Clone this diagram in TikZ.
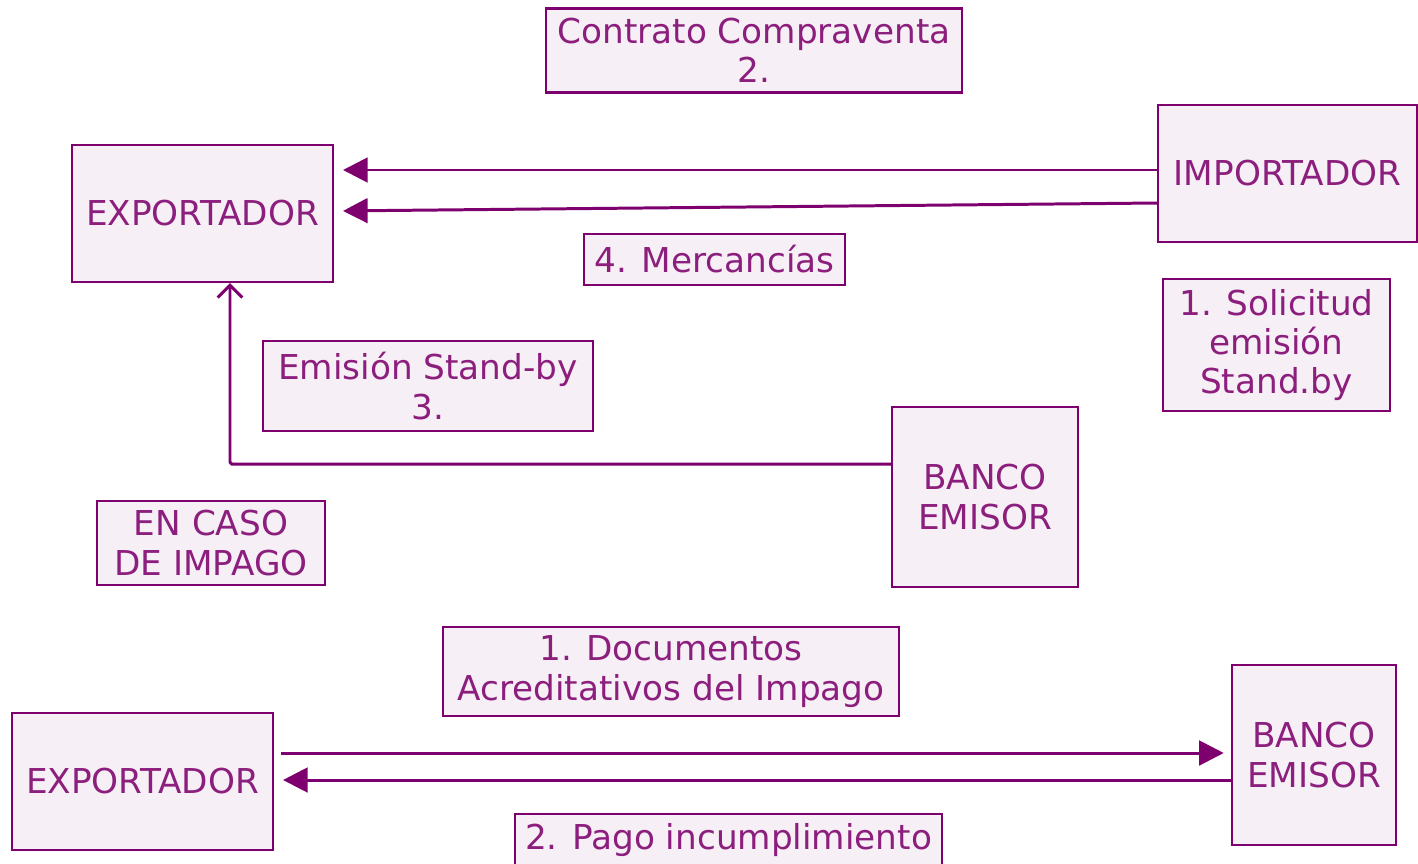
\documentclass[tikz,border=0pt]{standalone}
\usepackage{fontspec}
\setmainfont{DejaVu Sans}
\usetikzlibrary{arrows.meta}
\definecolor{pline}{RGB}{125,0,110}
\definecolor{ptext}{RGB}{140,30,125}
\definecolor{pfill}{RGB}{246,239,245}
\begin{document}
\begin{tikzpicture}[x=0.02cm,y=-0.02cm,
  box/.style={draw=pline,line width=1.4pt,fill=pfill,inner sep=0pt,text=ptext,align=center,
    font=\fontsize{19.5}{22.3}\selectfont},
  wh/.style 2 args={minimum width=#1*0.02cm,minimum height=#2*0.02cm},
  tri/.style={draw=pline,line width=1.7pt,-{Triangle[length=14pt,width=14pt]}},
  openarr/.style={draw=pline,line width=1.7pt,-{Straight Barb[length=7pt,width=14pt,line width=1.7pt]}}]
\useasboundingbox (0,0) rectangle (1418,863);
\clip (0,0) rectangle (1418,863);
\fill[white] (0,0) rectangle (1418,863);
\node[box,wh={416}{84}] (contrato) at (754,50.5) {Contrato Compraventa\\2.};
\node[box,wh={261}{137}] (exp1) at (202.5,213.5) {EXPORTADOR};
\node[box,wh={259}{137}] (imp) at (1287.5,173.5) {IMPORTADOR};
\node[box,wh={261}{51}] (merc) at (714.5,259.5) {4. Mercancías};
\node[box,wh={227}{132}] (sol) at (1276.5,345) {1. Solicitud\\emisión\\Stand.by};
\node[box,wh={330}{90}] (emis) at (428,386) {Emisión Stand-by\\3.};
\node[box,wh={186}{180}] (ban1) at (985,497) {BANCO\\EMISOR};
\node[box,wh={228}{84}] (caso) at (211,543) {EN CASO\\DE IMPAGO};
\node[box,wh={456}{89}] (docs) at (671,671.5) {1. Documentos\\Acreditativos del Impago};
\node[box,wh={261}{137}] (exp2) at (142.5,781.5) {EXPORTADOR};
\node[box,wh={164}{180}] (ban2) at (1314,755) {BANCO\\EMISOR};
\node[box,wh={427}{56}] (pago) at (728.5,842) {};
\node[text=ptext,font=\fontsize{19.5}{22}\selectfont,inner sep=0pt] (pagot) at (728.5,840) {2. Pago incumplimiento};
\coordinate (ya) at (0,170);
\coordinate (yb) at (0,203);
\coordinate (yc) at (0,211);
\coordinate (yd) at (0,464);
\coordinate (xe) at (230,0);
\coordinate (yf) at (0,753);
\coordinate (yg) at (0,780);
\draw[tri,shorten >=5pt] (imp.west |- ya) -- (exp1.east |- ya);
\draw[tri,shorten >=5pt] (imp.west |- yb) -- (exp1.east |- yc);
\draw[openarr,rounded corners=1pt] (ban1.west |- yd) -| (exp1.south -| xe);
\draw[tri,shorten <=4pt,shorten >=4pt] (exp2.east |- yf) -- (ban2.west |- yf);
\draw[tri,shorten >=5pt] (ban2.west |- yg) -- (exp2.east |- yg);
\end{tikzpicture}
\end{document}
